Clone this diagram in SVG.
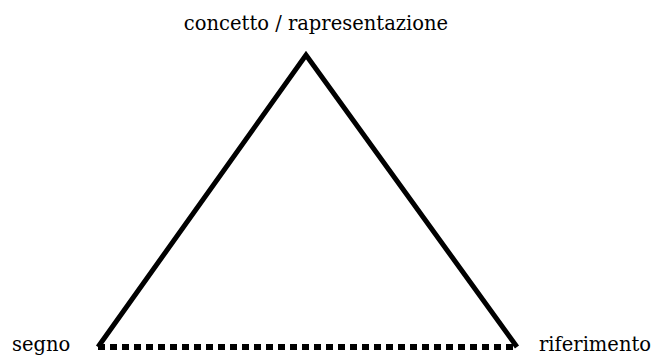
<svg xmlns="http://www.w3.org/2000/svg" width="654" height="356" viewBox="0 0 654 356">
<style>
.lbl{font-family:"DejaVu Serif","Liberation Serif",serif;font-size:19.5px;fill:#000}
.edge{fill:none;stroke:#000;stroke-width:5}
</style>
<rect width="654" height="356" fill="#fff"/>
<g id="connectors">
<polyline class="edge" points="98,347 306,55 517,347" stroke-linejoin="miter"/>
<line x1="98" y1="347" x2="518" y2="347" stroke="#000" stroke-width="6" stroke-dasharray="7 5"/>
</g>
<g id="concetto"><text class="lbl" x="316" y="30" text-anchor="middle">concetto / rapresentazione</text></g>
<g id="segno"><text class="lbl" x="12" y="351">segno</text></g>
<g id="riferimento"><text class="lbl" x="539" y="351">riferimento</text></g>
</svg>
